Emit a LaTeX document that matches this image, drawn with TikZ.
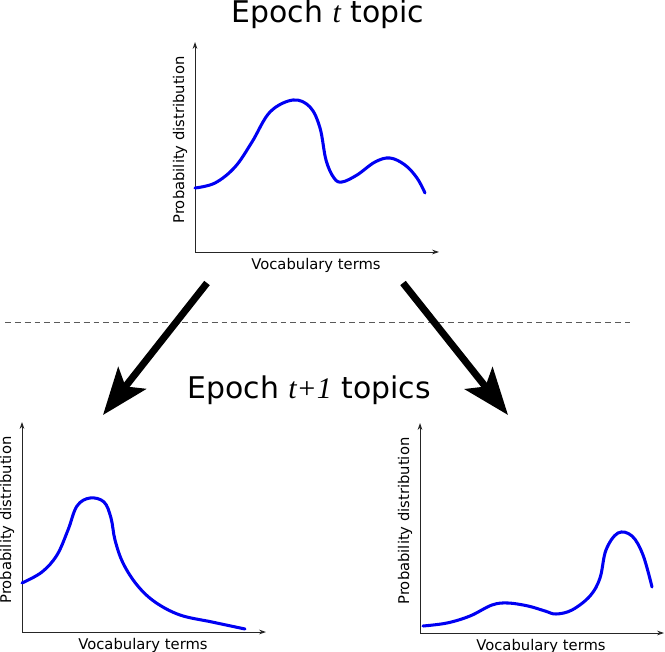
\documentclass[tikz,border=0pt]{standalone}
\usepackage{fontspec}
\setmainfont{DejaVu Sans}
\newfontfamily\italicserif{Liberation Serif}
\usetikzlibrary{arrows.meta}
\definecolor{curveblue}{rgb}{0.0, 0.0, 0.95}
\definecolor{axisgray}{rgb}{0.15, 0.15, 0.15}
\definecolor{dashgray}{rgb}{0.35, 0.35, 0.35}

\begin{document}
\begin{tikzpicture}[x=0.03cm,y=-0.03cm,
        axisline/.style={draw=axisgray,line width=0.8pt,arrows={Stealth[length=6pt,width=4pt]-Stealth[length=6pt,width=4pt]}},
        density/.style={draw=curveblue,line width=2.6pt,line cap=round,line join=round},
        bigarrow/.style={draw=black,line width=6pt,-{Stealth[length=40pt,width=30pt,inset=9pt]}},
        axislabel/.style={font=\fontsize{12.6}{14}\selectfont,inner sep=0pt},
        heading/.style={font=\fontsize{25.5}{30}\selectfont,inner sep=0pt,anchor=base}]
        \useasboundingbox (0,0) rectangle (665,652);

        % titles
        \node[heading] (title-t) at (328,23) {Epoch {\italicserif\itshape t} topic};
        \node[heading] (title-next) at (309,398) {Epoch {\italicserif\itshape t+1} topics};

        % axes of the three charts
        \foreach \name/\ox/\oy in {top/195/252,left/22/632,right/420/633}{
            \draw[axisline] ({\ox},{\oy-210}) -- ({\ox},{\oy}) -- ({\ox+244},{\oy});
            \node[axislabel] (\name-xlabel) at ({\ox+121},{\oy+13}) {Vocabulary terms};
            \node[axislabel,rotate=90] (\name-ylabel) at ({\ox-15},{\oy-112}) {Probability distribution};
        }

        % topic curves
        \draw[density] plot[smooth,tension=0.6] coordinates {(195,188) (215,183) (235,167) (252,142) (270,112) (293,100) (310,107) (320,128) (326,160) (334,178) (342,182) (357,175) (375,162) (390,158) (405,165) (417,178) (425,193)};
        \draw[density] plot[smooth,tension=0.6] coordinates {(22,583) (42,572) (57,555) (68,530) (77,506) (90,498) (104,502) (111,518) (115,540) (123,563) (137,585) (155,602) (180,615) (212,622) (245,629)};
        \draw[density] plot[smooth,tension=0.6] coordinates {(423,626) (447,623) (470,616) (492,605) (508,603) (528,606) (545,611) (556,614) (572,610) (590,596) (600,578) (606,550) (618,533) (632,536) (643,555) (652,587)};

        % epoch separator
        \coordinate (sep-a) at (5,322);
        \coordinate (sep-b) at (630,322);
        \draw[draw=dashgray,line width=0.8pt,dash pattern=on 5pt off 3.4pt] (sep-a) -- (sep-b);

        % split arrows
        \coordinate (split-l) at (207,283);
        \coordinate (tip-l) at (103,415);
        \coordinate (split-r) at (403,283);
        \coordinate (tip-r) at (508,415);
        \draw[bigarrow] (split-l) -- (tip-l);
        \draw[bigarrow] (split-r) -- (tip-r);
    \end{tikzpicture}
\end{document}
